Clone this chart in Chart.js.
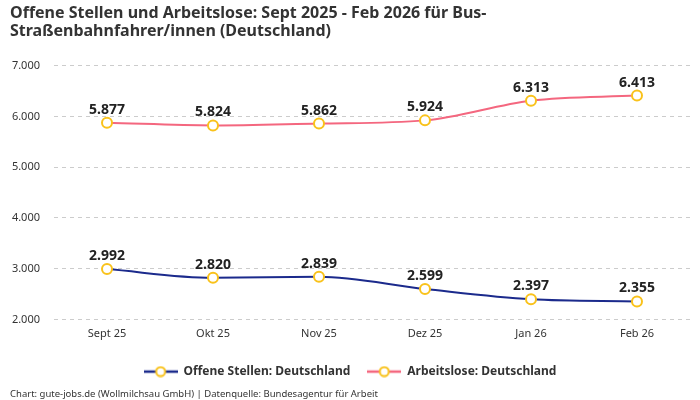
<!DOCTYPE html>
<html>
<head>
<meta charset="utf-8">
<script src="https://cdn.jsdelivr.net/npm/chart.js@4"></script>
<style>
  html, body { margin: 0; padding: 0; background: #fff; }
  #wrap { width: 700px; height: 400px; }
</style>
</head>
<body>
<div id="wrap"><canvas id="chart"></canvas></div>
<script>
const months = ['Sept 25', 'Okt 25', 'Nov 25', 'Dez 25', 'Jan 26', 'Feb 26']
const offeneStellen = [2992, 2820, 2839, 2599, 2397, 2355]
const arbeitslose = [5877, 5824, 5862, 5924, 6313, 6413]
const yTicks = [2000, 3000, 4000, 5000, 6000, 7000]

const FONT = "'Noto Sans', sans-serif"
const blue = '#1b2a8c'
const pink = '#f4677f'
const yellow = '#f9c21b'

const fmt = new Intl.NumberFormat('de-DE')

// small line + ring image for the legend
function legendIcon(color) {
    const c = document.createElement('canvas')
    c.width = 34
    c.height = 12
    const ctx = c.getContext('2d')
    ctx.strokeStyle = color
    ctx.lineWidth = 2.5
    ctx.beginPath()
    ctx.moveTo(0, 6)
    ctx.lineTo(34, 6)
    ctx.stroke()
    ctx.beginPath()
    ctx.arc(17, 6, 4.5, 0, Math.PI * 2)
    ctx.fillStyle = '#fff'
    ctx.fill()
    ctx.strokeStyle = yellow
    ctx.lineWidth = 2
    ctx.stroke()
    return c
}

// value labels above each point
const valueLabels = {
    id: 'valueLabels',
    afterDatasetsDraw(chart) {
        const ctx = chart.ctx
        ctx.save()
        ctx.font = 'bold 14px ' + FONT
        ctx.fillStyle = '#222'
        ctx.textAlign = 'center'
        ctx.textBaseline = 'bottom'
        chart.data.datasets.forEach(function (ds, i) {
            chart.getDatasetMeta(i).data.forEach(function (pt, j) {
                ctx.fillText(fmt.format(ds.data[j]), pt.x, pt.y - 6)
            })
        })
        ctx.restore()
    }
}

new Chart(document.getElementById('chart'), {
    type: 'line',
    data: {
        labels: months,
        datasets: [{
            label: 'Offene Stellen: Deutschland',
            data: offeneStellen,
            borderColor: blue,
            backgroundColor: blue,
            borderWidth: 2,
            cubicInterpolationMode: 'monotone',
            pointRadius: 5,
            pointHoverRadius: 5,
            pointBorderWidth: 2,
            pointBorderColor: yellow,
            pointBackgroundColor: '#fff'
        }, {
            label: 'Arbeitslose: Deutschland',
            data: arbeitslose,
            borderColor: pink,
            backgroundColor: pink,
            borderWidth: 2,
            cubicInterpolationMode: 'monotone',
            pointRadius: 5,
            pointHoverRadius: 5,
            pointBorderWidth: 2,
            pointBorderColor: yellow,
            pointBackgroundColor: '#fff'
        }]
    },
    options: {
        responsive: true,
        maintainAspectRatio: false,
        animation: false,
        layout: { padding: { left: 10, right: 10, top: 4, bottom: 0 } },
        plugins: {
            title: {
                display: true,
                align: 'start',
                text: ['Offene Stellen und Arbeitslose: Sept 2025 - Feb 2026 für Bus-',
                       'Straßenbahnfahrer/innen (Deutschland)'],
                color: '#333',
                font: { family: FONT, size: 16, weight: 'bold', lineHeight: 1.15 },
                padding: { top: 0, bottom: 25 }
            },
            subtitle: {
                display: true,
                position: 'bottom',
                align: 'start',
                text: 'Chart: gute-jobs.de (Wollmilchsau GmbH) | Datenquelle: Bundesagentur für Arbeit',
                color: '#333',
                font: { family: FONT, size: 9.5 },
                padding: { top: 1, bottom: 0 }
            },
            legend: {
                position: 'bottom',
                labels: {
                    usePointStyle: true,
                    pointStyleWidth: 34,
                    boxHeight: 12,
                    padding: 17,
                    color: '#333',
                    font: { family: FONT, size: 12, weight: 'bold' },
                    generateLabels(chart) {
                        return chart.data.datasets.map(function (ds, i) {
                            return {
                                text: ds.label,
                                pointStyle: legendIcon(ds.borderColor),
                                fontColor: '#333',
                                datasetIndex: i,
                                hidden: false,
                                lineWidth: 0
                            }
                        })
                    }
                }
            },
            tooltip: { enabled: false }
        },
        scales: {
            x: {
                offset: true,
                grid: { display: false, drawTicks: false, tickLength: 0 },
                border: { display: false },
                ticks: { color: '#333', font: { family: FONT, size: 11 }, padding: 8 }
            },
            y: {
                min: 2000,
                max: 7000,
                afterBuildTicks(axis) {
                    axis.ticks = yTicks.map(function (v) { return { value: v } })
                },
                afterFit(axis) {
                    axis.width = 44
                },
                grid: { color: '#cccccc', drawTicks: false },
                border: { display: false, dash: [4, 4] },
                ticks: {
                    color: '#333',
                    padding: 14,
                    font: { family: FONT, size: 11 },
                    callback: function (v) { return fmt.format(v) }
                }
            }
        }
    },
    plugins: [valueLabels]
})
</script>
</body>
</html>
